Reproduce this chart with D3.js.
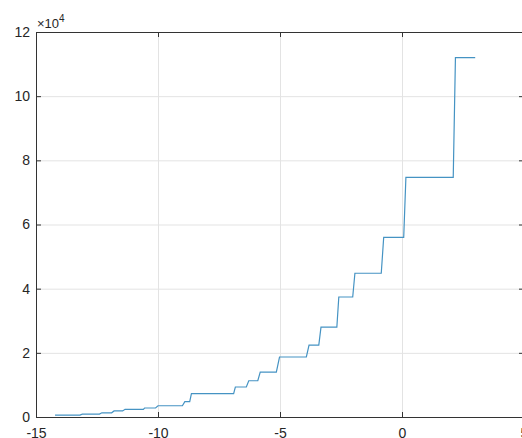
<!DOCTYPE html>
<html>
<head>
<meta charset="utf-8">
<script src="https://cdn.jsdelivr.net/npm/d3@7"></script>
<style>
  body { margin: 0; background: #fff; }
  svg { display: block; font-family: "Liberation Sans", Arial, sans-serif; }
</style>
</head>
<body>
<div id="chart"></div>
<script>
// step levels: start x, end x, value
var stepStart = [-14.22, -13.1, -12.3, -11.8, -11.35, -10.55, -10.0, -8.9, -8.63, -6.83, -6.28, -5.81, -5.02, -3.81, -3.32, -2.59, -1.93, -0.75, 0.16, 2.19];
var stepEnd   = [-13.2, -12.4, -11.9, -11.45, -10.6, -10.1, -9.0, -8.7, -6.9, -6.38, -5.91, -5.15, -3.92, -3.41, -2.67, -2.02, -0.85, 0.07, 2.1, 3.0];
var stepValue = [600, 900, 1300, 1900, 2400, 2800, 3500, 4800, 7300, 9350, 11300, 14000, 18700, 22400, 28000, 37400, 44800, 56000, 74700, 112000];

var xTicks = [-15, -10, -5, 0, 5];
var yTicks = [0, 20000, 40000, 60000, 80000, 100000, 120000];

var svgWidth = 522;
var svgHeight = 438;

var margin = { top: 32, left: 36, bottom: 21, right: -2 };
var width = svgWidth - margin.left - margin.right;
var height = svgHeight - margin.top - margin.bottom;

var svg = d3.select("#chart")
  .append("svg")
  .attr("width", svgWidth)
  .attr("height", svgHeight);

var chartGroup = svg.append("g")
  .attr("transform", `translate(${margin.left}, ${margin.top})`);

var xScale = d3.scaleLinear().domain([-15, 5]).range([0, width]);
var yScale = d3.scaleLinear().domain([0, 120000]).range([height, 0]);

// grid lines
chartGroup.append("g")
  .attr("class", "grid")
  .attr("transform", `translate(0, ${height})`)
  .call(d3.axisBottom(xScale).tickValues(xTicks).tickSize(-height).tickFormat(""));
chartGroup.append("g")
  .attr("class", "grid")
  .call(d3.axisLeft(yScale).tickValues(yTicks).tickSize(-width).tickFormat(""));
chartGroup.selectAll(".grid .domain").remove();
chartGroup.selectAll(".grid line").attr("stroke", "#e3e3e3").attr("stroke-width", 1);

// the staircase
var points = [];
stepValue.forEach(function(v, i) {
  points.push([stepStart[i], v]);
  points.push([stepEnd[i], v]);
});

var line = d3.line()
  .x(d => xScale(d[0]))
  .y(d => yScale(d[1]));

chartGroup.append("path")
  .datum(points)
  .attr("fill", "none")
  .attr("stroke", "#4593c3")
  .attr("stroke-width", 1.2)
  .attr("d", line);

// axes with inward ticks on all four sides
var tickColor = "#333";
var fmtX = d => String(d);
var fmtY = d => String(d / 10000);

var xAxisB = chartGroup.append("g")
  .attr("transform", `translate(0, ${height})`)
  .call(d3.axisBottom(xScale).tickValues(xTicks).tickSize(-5).tickPadding(11).tickFormat(fmtX));
var xAxisT = chartGroup.append("g")
  .call(d3.axisTop(xScale).tickValues(xTicks).tickSize(-5).tickFormat(""));
var yAxisL = chartGroup.append("g")
  .call(d3.axisLeft(yScale).tickValues(yTicks).tickSize(-5).tickPadding(6).tickFormat(fmtY));
var yAxisR = chartGroup.append("g")
  .attr("transform", `translate(${width}, 0)`)
  .call(d3.axisRight(yScale).tickValues(yTicks).tickSize(-5).tickFormat(""));

[xAxisB, xAxisT, yAxisL, yAxisR].forEach(function(a) {
  a.select(".domain").attr("stroke", tickColor).attr("stroke-width", 1);
  a.selectAll("line").attr("stroke", tickColor);
  a.selectAll("text").attr("fill", "#262626").style("font-size", "14px");
});

// exponent label
var expo = svg.append("text")
  .attr("x", margin.left + 1)
  .attr("y", margin.top - 4)
  .attr("fill", "#262626")
  .style("font-size", "13px");
expo.append("tspan").text("\u00d710");
expo.append("tspan").attr("dy", -6).style("font-size", "10px").text("4");
</script>
</body>
</html>
